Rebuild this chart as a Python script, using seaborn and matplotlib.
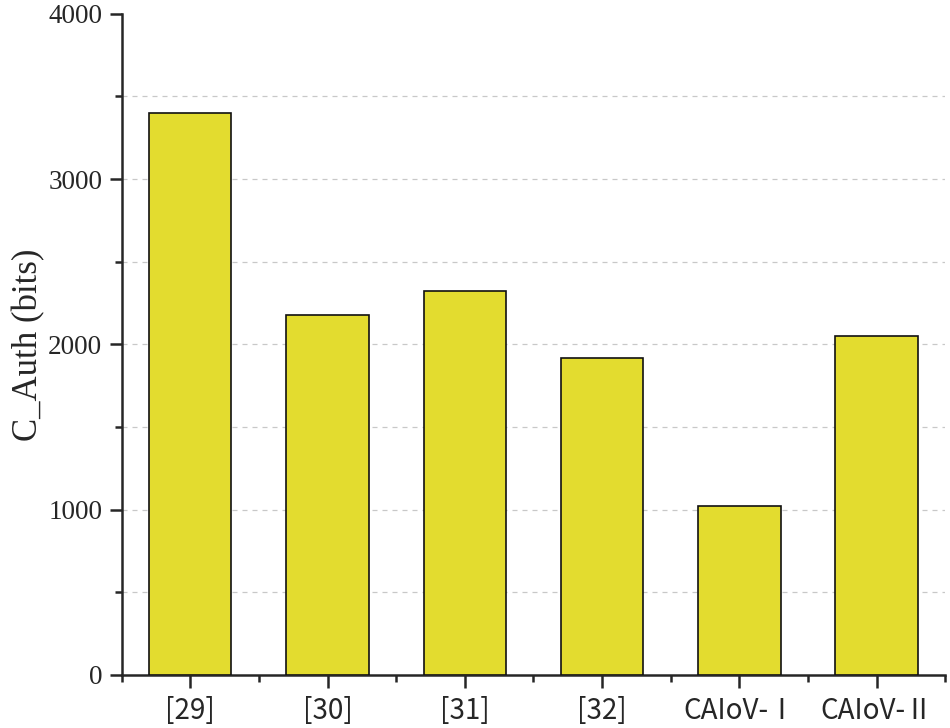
import pandas as pd
import matplotlib.pyplot as plt
import seaborn as sns
from matplotlib.ticker import MultipleLocator

schemes = ['[29]', '[30]', '[31]', '[32]', 'CAIoV-Ⅰ', 'CAIoV-Ⅱ']
c_auth = [3400, 2176, 2320, 1920, 1024, 2048]

df = pd.DataFrame({'scheme': schemes, 'bits': c_auth})

sns.set_style('ticks')
plt.rcParams['font.family'] = ['Liberation Serif', 'DejaVu Serif']

fig, ax = plt.subplots(figsize=(9.5, 7.28), dpi=100)
fig.subplots_adjust(left=0.128, right=0.995, top=0.981, bottom=0.073)

sns.barplot(data=df, x='scheme', y='bits', color='#E3DC2F', saturation=1,
            width=0.6, edgecolor='#111111', linewidth=1.2, ax=ax, zorder=3)

ax.set_ylim(0, 4000)
ax.set_xlim(-0.5, 5.5)
ax.yaxis.set_major_locator(MultipleLocator(1000))
ax.yaxis.set_minor_locator(MultipleLocator(500))
ax.set_xticks(range(len(schemes)))
ax.set_xticks([i + 0.5 for i in range(-1, len(schemes))], minor=True)

for y in [500, 1000, 1500, 2000, 2500, 3000, 3500]:
    ax.axhline(y, color='#C8C8C8', linestyle=(0, (4, 4)), linewidth=0.9, zorder=0)

sns.despine(ax=ax)
ax.spines['left'].set_linewidth(1.8)
ax.spines['bottom'].set_linewidth(1.8)
ax.tick_params(axis='both', which='major', direction='out', length=9, width=1.8,
               labelsize=19.5)
ax.tick_params(axis='y', which='major', pad=5)
ax.tick_params(axis='x', which='major', pad=6)
ax.tick_params(axis='both', which='minor', direction='out', length=5, width=1.8)

ax.set_xticklabels(schemes, fontsize=20,
                   family=['Noto Sans CJK SC', 'DejaVu Sans'])
ax.set_xlabel('')
ax.set_ylabel('C_Auth (bits)', fontsize=25, labelpad=2)

plt.savefig('out.png', dpi=100)
